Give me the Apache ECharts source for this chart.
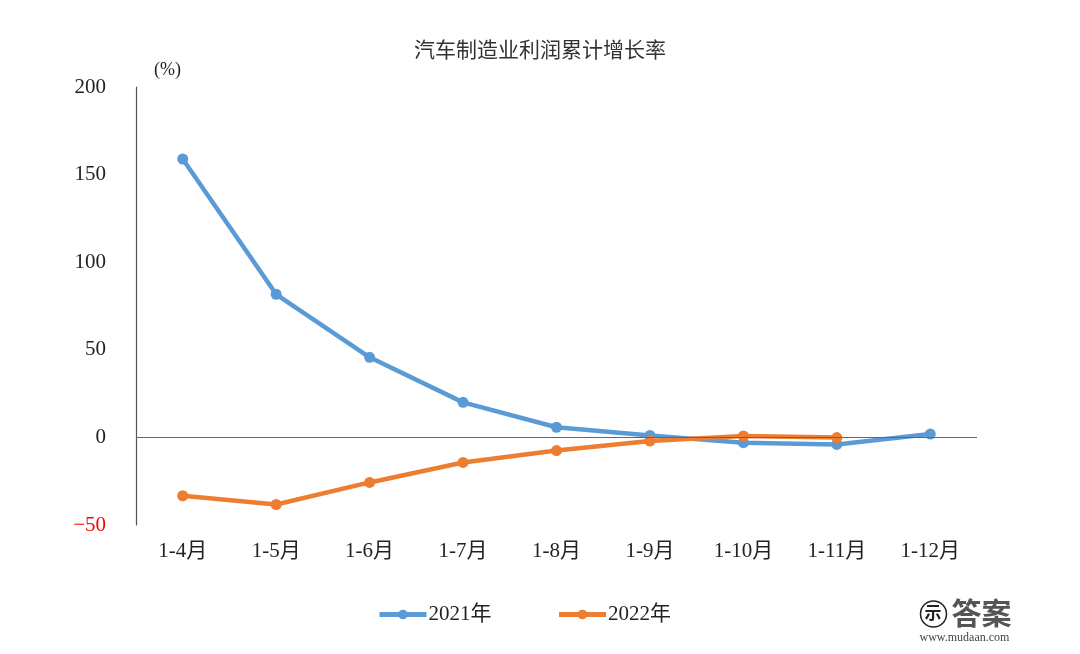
<!DOCTYPE html>
<html><head><meta charset="utf-8">
<script src="https://cdn.jsdelivr.net/npm/echarts@6/dist/echarts.min.js"></script>
<style>html,body{margin:0;padding:0;background:#fff}#c{width:1080px;height:654px}</style>
</head><body><div id="c"></div>
<script>
var categories = ['1-4月','1-5月','1-6月','1-7月','1-8月','1-9月','1-10月','1-11月','1-12月'];
var s2021 = [158.9, 81.7, 45.7, 20.0, 5.8, 1.1, -3.0, -4.0, 1.9];
var s2022 = [-33.3, -38.3, -25.7, -14.3, -7.5, -2.1, 0.8, -0.1];
var yTicks = [-50, 0, 50, 100, 150, 200];
var serif = "'Liberation Serif','DejaVu Serif','Noto Sans CJK SC',serif";
var chart = echarts.init(document.getElementById('c'));
chart.setOption({
  animation:false,
  title:{text:'汽车制造业利润累计增长率',left:'center',top:34,textStyle:{fontFamily:"'Noto Sans CJK SC',sans-serif",fontWeight:'normal',fontSize:21,color:'#333'}},
  grid:{left:136,right:103,top:87,bottom:129},
  legend:{top:604,left:377,padding:0,itemGap:65,itemWidth:47,itemHeight:12,textStyle:{fontFamily:serif,fontSize:21,color:'#222',padding:[0,0,0,-3]},
    data:[{name:'2021年',lineStyle:{width:5}},{name:'2022年',lineStyle:{width:5}}]},
  xAxis:{type:'category',data:categories,boundaryGap:true,axisLine:{show:false},axisTick:{show:false},
    axisLabel:{margin:16,fontFamily:serif,fontSize:21,color:'#222'}},
  yAxis:{type:'value',min:yTicks[0],max:yTicks[yTicks.length-1],interval:50,splitLine:{show:false},
    axisLine:{show:true,lineStyle:{color:'#555',width:1.2}},axisTick:{show:false},
    axisLabel:{margin:30,fontFamily:serif,fontSize:21,color:function(v){return v<0?'#ff0000':'#222';},
      formatter:function(v){return v<0?'−'+Math.abs(v):String(v);}}},
  graphic:[
    {type:'text',left:154,top:61,style:{text:'(%)',font:"18px 'Liberation Serif','Noto Sans CJK SC'",fill:'#222'}},
    {type:'group',left:918,top:598,children:[
      {type:'circle',shape:{cx:14,cy:16,r:13},style:{fill:'none',stroke:'#222',lineWidth:1.5}},
      {type:'text',x:5,y:6,style:{text:'示',font:"bold 17px 'Noto Sans CJK SC'",fill:'#222'}},
      {type:'text',x:32,y:0,style:{text:'答案',font:"bold 30px 'Noto Sans CJK SC'",fill:'#555'}},
      {type:'text',x:0,y:34,style:{text:'www.mudaan.com',font:"12px 'Liberation Serif'",fill:'#444'}}
    ]}
  ],
  series:[
    {name:'2021年',type:'line',data:s2021,symbol:'circle',symbolSize:11,lineStyle:{width:4.5,color:'#5B9BD5'},itemStyle:{color:'#5B9BD5'},
     markLine:{silent:true,symbol:'none',label:{show:false},lineStyle:{color:'#666',width:1.2,type:'solid'},data:[{yAxis:0}]},z:2},
    {name:'2022年',type:'line',data:s2022,symbol:'circle',symbolSize:11,lineStyle:{width:4.5,color:'#ED7D31'},itemStyle:{color:'#ED7D31'},z:3}
  ]
});
</script></body></html>
